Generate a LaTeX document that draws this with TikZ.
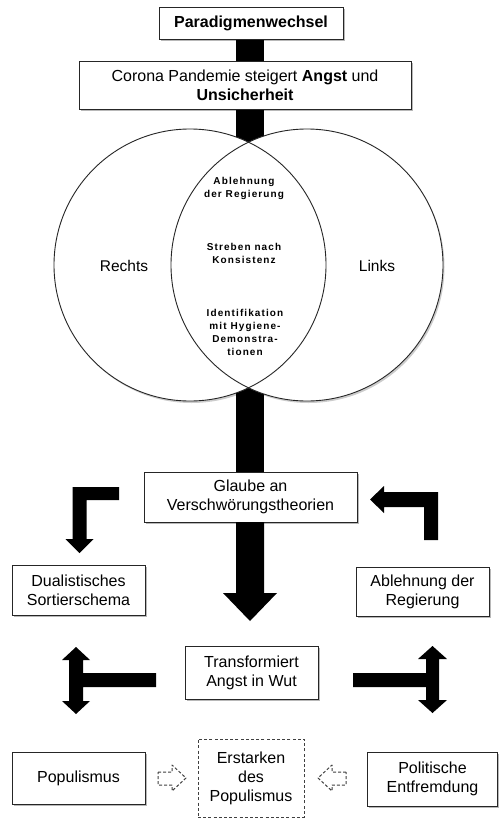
\documentclass[tikz,border=0pt]{standalone}
\usepackage{fontspec}
\setmainfont{Liberation Sans}
\newfontfamily\lensfont[LetterSpace=11]{Liberation Sans}
\usetikzlibrary{shadows}
\begin{document}
\begin{tikzpicture}[x=1pt,y=-1pt,
  shad/.style={drop shadow={shadow xshift=1.8pt, shadow yshift=-2pt, fill=black, opacity=0.28}},
  box/.style={draw=black!85, line width=0.9pt, fill=white, align=center, inner sep=0pt,
    font=\fontsize{16}{19}\selectfont, shad},
  dbox/.style={draw=black!75, line width=0.9pt, dash pattern=on 3pt off 2.2pt, fill=white,
    align=center, inner sep=0pt, font=\fontsize{16}{19}\selectfont},
  lens/.style={align=center, inner sep=0pt, font=\lensfont\bfseries\fontsize{10}{13}\selectfont},
  side/.style={inner sep=0pt, font=\fontsize{15.5}{19}\selectfont},
  blk/.style={fill=black},
  darr/.style={draw=black!75, line width=1pt, dash pattern=on 3pt off 2pt, fill=white, line join=round}
]
\useasboundingbox (0,0) rectangle (498,819);
\fill[white] (0,0) rectangle (498,819);

% central black bar
\coordinate (bartop) at (250,39);
\coordinate (barbot) at (250,522);
\fill[blk] (236,39) rectangle (264,522);

% circles: shadows, fills, outlines
\fill[black, opacity=0.2] (191.5,267) circle[radius=136];
\fill[black, opacity=0.2] (308.5,267) circle[radius=136];
\fill[white] (190,265) circle[radius=136];
\fill[white] (307,265) circle[radius=136];
\draw[black!85, line width=0.9pt] (190,265) circle[radius=136];
\draw[black!85, line width=0.9pt] (307,265) circle[radius=136];

\node[side] (rechts) at (124,266) {Rechts};
\node[side] (links) at (377,266) {Links};

\node[lens] (l1) at (244,188) {Ablehnung\\der Regierung};
\node[lens] (l2) at (244,253) {Streben nach\\Konsistenz};
\node[lens] (l3) at (245,332) {Identifikation\\mit Hygiene-\\Demonstra-\\tionen};

% boxes
\node[box, minimum width=184, minimum height=32, font=\bfseries\fontsize{16}{19}\selectfont] (para) at (251,23) {Paradigmenwechsel};
\node[box, minimum width=332, minimum height=48] (corona) at (245,85) {Corona Pandemie steigert \textbf{Angst} und\\\textbf{Unsicherheit}};
\node[box, minimum width=213, minimum height=50] (glaube) at (250.5,497) {Glaube an\\Verschwörungstheorien};
\node[box, minimum width=133, minimum height=50] (dual) at (78.5,590) {Dualistisches\\Sortierschema};
\node[box, minimum width=133, minimum height=49] (ablehnung) at (422.5,591.5) {Ablehnung der\\Regierung};
\node[box, minimum width=133, minimum height=53] (trans) at (251.5,672.5) {Transformiert\\Angst in Wut};
\node[box, minimum width=133, minimum height=52] (popul) at (78.5,778) {Populismus};
\node[dbox, minimum width=106, minimum height=78] (erst) at (251,778) {Erstarken\\des\\Populismus};
\node[box, minimum width=130, minimum height=54] (polit) at (432.5,779) {Politische\\Entfremdung};

% main down arrow glaube -> trans
\fill[blk] (236,522) -- (236,593) -- (223,593) -- (250,621) -- (277,593) -- (264,593) -- (264,522) -- cycle;

% elbow glaube -> dual
\fill[blk] (119,487) -- (72.5,487) -- (72.5,539) -- (65.5,539) -- (79.5,553) -- (93.5,539)
  -- (86.5,539) -- (86.5,500) -- (119,500) -- cycle;

% elbow ablehnung -> glaube
\fill[blk] (424,540) -- (438,540) -- (438,492) -- (384,492) -- (384,486) -- (370,499.5)
  -- (384,513) -- (384,507) -- (424,507) -- cycle;

% T arrow trans -> dual / popul
\fill[blk] (76,647) -- (90,660) -- (83,660) -- (83,673) -- (156,673) -- (156,687) -- (83,687)
  -- (83,701) -- (90,701) -- (76,714) -- (62,701) -- (69,701) -- (69,660) -- (62,660) -- cycle;

% T arrow trans -> ablehnung / polit
\fill[blk] (432.5,646) -- (447,659) -- (439,659) -- (439,700) -- (447,700) -- (432.5,713)
  -- (418,700) -- (426,700) -- (426,687) -- (353,687) -- (353,673) -- (426,673) -- (426,659)
  -- (418,659) -- cycle;

% dashed outline arrows
\draw[darr] (158,772) -- (172,772) -- (172,765) -- (186,778) -- (172,791) -- (172,785) -- (158,785) -- cycle;
\draw[darr] (346,772) -- (332,772) -- (332,765) -- (318,778) -- (332,791) -- (332,785) -- (346,785) -- cycle;
\end{tikzpicture}
\end{document}
